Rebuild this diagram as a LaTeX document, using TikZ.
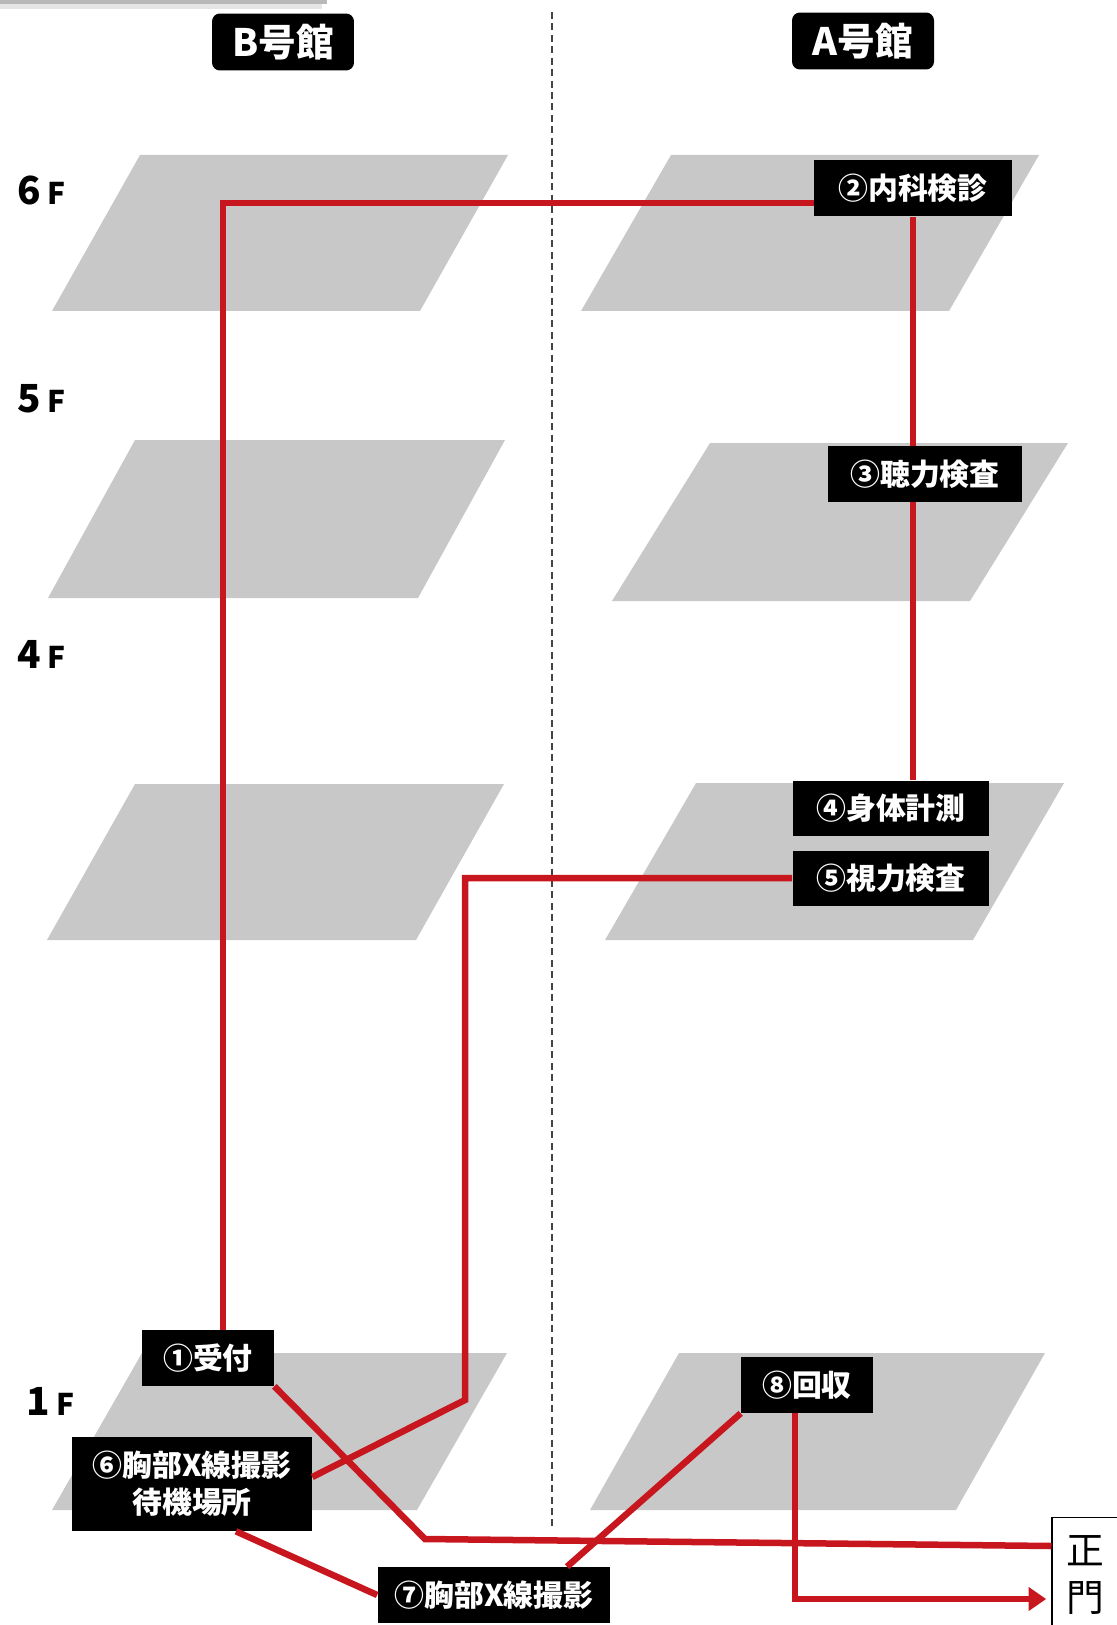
\documentclass[tikz,border=0pt]{standalone}
\usepackage{fontspec}
\usepackage{xcolor}
\usepackage{tikz}
\usetikzlibrary{
    arrows.meta,
    positioning,
    calc
}
\newfontfamily\jpfont{Noto Sans CJK JP}
\definecolor{routered}{HTML}{C8161E}
\definecolor{slabgray}{HTML}{C8C8C8}
\definecolor{dividergray}{HTML}{444444}
\tikzset{
    % Black station box
    stationbox/.style={
        rectangle,
        fill=black,
        text=white,
        font=\jpfont\bfseries\fontsize{17}{21}\selectfont,
        minimum height=1.12cm,
        align=center,
        inner sep=0pt
    },
    % Building header
    buildingtag/.style={
        rectangle,
        rounded corners=4.5pt,
        fill=black,
        text=white,
        font=\jpfont\bfseries\fontsize{21.5}{26}\selectfont,
        minimum width=2.84cm,
        minimum height=1.14cm,
        inner sep=0pt
    },
    % Main gate box
    gatebox/.style={
        rectangle,
        draw=black,
        fill=white,
        line width=0.6pt,
        font=\jpfont\fontsize{21.5}{27}\selectfont,
        minimum width=1.32cm,
        minimum height=2.32cm,
        align=center,
        inner sep=0pt
    },
    % Floor plate
    floorslab/.style={
        fill=slabgray
    },
    % Floor label
    floorlabel/.style={
        anchor=base west,
        inner sep=0pt,
        font=\jpfont\bfseries
    },
    % Route line
    route/.style={
        draw=routered,
        line width=3.7pt,
        line join=miter
    },
    routearrow/.style={
        route,
        -{Triangle[length=10pt,width=13pt]},
        shorten >=3pt
    }
}

\begin{document}
\begin{tikzpicture}[x=0.02cm, y=-0.02cm]
    \useasboundingbox (0,0) rectangle (1116,1625);

    % Top-left shadow
    \fill[black!10] (0,0) rectangle (322,9);
    \fill[black!28] (0,0) rectangle (327,4);

    % Divider
    \draw[dividergray, line width=0.7pt, dash pattern=on 4pt off 2.5pt] (552,12) -- (552,1526);

    % Floor plates
    \foreach \tx/\ty/\bx/\by/\w in {
        140/155/52/311/368, 671/155/581/311/368,
        135/440/48/598/370, 710/443/612/601/358,
        135/784/47/940/369, 696/783/605/940/368,
        142/1353/52/1510/365, 679/1353/590/1510/366}
        \fill[floorslab] (\tx,\ty) -- (\tx+\w,\ty) -- (\bx+\w,\by) -- (\bx,\by) -- cycle;

    % Floor labels
    \node[floorlabel] (fl6) at (17,205) {\fontsize{22}{26}\selectfont 6\,\fontsize{17}{20}\selectfont F};
    \node[floorlabel] (fl5) at (17,412) {\fontsize{22}{26}\selectfont 5\,\fontsize{17}{20}\selectfont F};
    \node[floorlabel] (fl4) at (17,668) {\fontsize{22}{26}\selectfont 4\,\fontsize{17}{20}\selectfont F};
    \node[floorlabel] (fl1) at (26,1415) {\fontsize{22}{26}\selectfont 1\,\fontsize{17}{20}\selectfont F};

    % Buildings
    \node[buildingtag] (bldgB) at (283,42) {B号館};
    \node[buildingtag] (bldgA) at (863,41) {A号館};

    % Stations
    \node[stationbox, minimum width=2.64cm] (uketsuke) at (208,1358) {①受付};
    \node[stationbox, minimum width=3.96cm, minimum height=1.14cm] (naika) at (913,188) {②内科検診};
    \node[stationbox, minimum width=3.88cm] (choryoku) at (925,474) {③聴力検査};
    \node[stationbox, minimum width=3.94cm, minimum height=1.1cm] (shintai) at (891,808) {④身体計測};
    \node[stationbox, minimum width=3.94cm, minimum height=1.1cm] (shiryoku) at (891,878) {⑤視力検査};
    \node[stationbox, minimum width=4.8cm, minimum height=1.88cm] (taiki) at (192,1484) {⑥胸部X線撮影\\待機場所};
    \node[stationbox, minimum width=4.66cm] (xsatsu) at (494,1595) {⑦胸部X線撮影};
    \node[stationbox, minimum width=2.64cm] (kaishu) at (807,1385) {⑧回収};
    \node[gatebox] (seimon) at (1085,1575) {正\\門};

    % Route coordinates
    \coordinate (col1) at (223,203);
    \coordinate (colA) at (913,0);
    \coordinate (col5) at (465,1400);
    \coordinate (col6) at (236,0);
    \coordinate (col7) at (567,0);
    \coordinate (kink1) at (425,1539);
    \coordinate (gatetop) at (0,1546);
    \coordinate (kink8) at (795,1599);

    % Route
    \draw[route] (uketsuke.south east) -- (kink1) -- (seimon.west |- gatetop);
    \draw[route] (uketsuke.north -| col1) -- (col1) -- (naika.west |- col1);
    \draw[route] (naika.south -| colA) -- (choryoku.north -| colA);
    \draw[route] (choryoku.south -| colA) -- (shintai.north -| colA);
    \draw[route] (shiryoku.west) -- (shiryoku.west -| col5) -- (col5) -- ([yshift=4pt]taiki.east);
    \draw[route] (taiki.south -| col6) -- (xsatsu.west);
    \draw[route] (xsatsu.north -| col7) -- (kaishu.south west);
    \draw[routearrow] (kaishu.south -| kink8) -- (kink8) -- (seimon.west |- kink8);

\end{tikzpicture}
\end{document}
